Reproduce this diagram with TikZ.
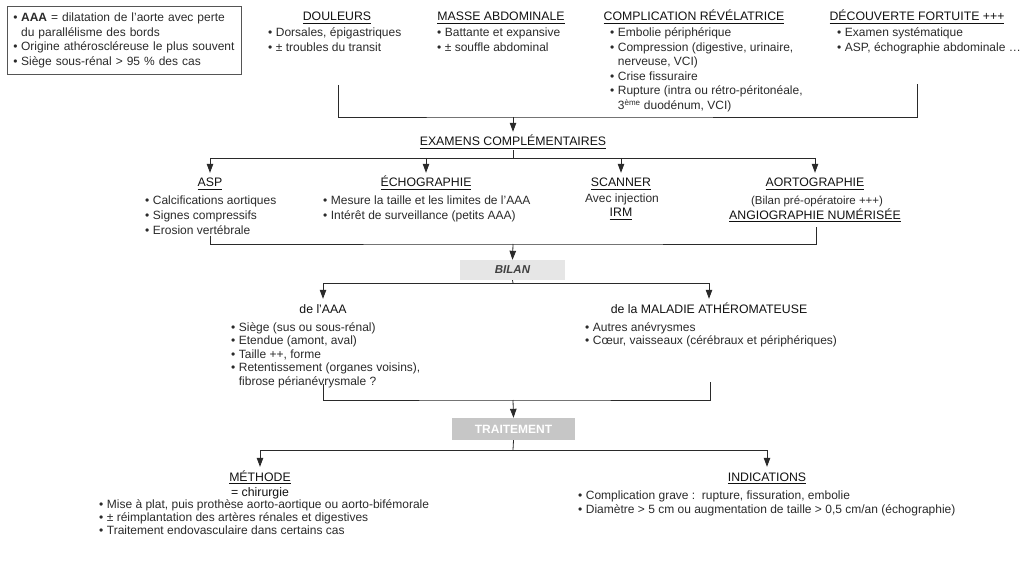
\documentclass[tikz,border=0pt]{standalone}
\usepackage{fontspec}
\setmainfont{Liberation Sans}
\usetikzlibrary{arrows.meta}
\definecolor{lc}{HTML}{2A2A2A}
\definecolor{tx}{HTML}{2A2A2A}
\definecolor{hd}{HTML}{111111}
\definecolor{boxa}{HTML}{E6E6E6}
\definecolor{boxb}{HTML}{C6C6C6}
\definecolor{frame}{HTML}{555555}
\newcommand\ulx[1]{\setbox0\hbox{#1}\rlap{\rule[-3pt]{\wd0}{0.8pt}}\box0}
\newcommand\bfont{\fontsize{12}{14.5}\selectfont}
\newcommand\hfont{\fontsize{12.3}{14.5}\selectfont}
\newcommand\lst[1]{\begin{tabular}[t]{@{}l@{\hspace{3.5pt}}l@{}}#1\end{tabular}}
\newcommand\bu{•}
\tikzset{
  ln/.style={draw=lc, line width=0.8pt},
  arr/.style={ln, -{Triangle[width=6.5pt,length=9pt]}},
  hdr/.style={anchor=base, inner sep=0pt, text height=14pt, text depth=4pt, font=\hfont, text=hd},
  body/.style={anchor=base west, inner sep=0pt, font=\bfont, text=tx},
  bodyc/.style={anchor=base, inner sep=0pt, font=\bfont, text=tx},
  graybox/.style={inner sep=0pt, minimum width=105pt, minimum height=20pt, fill=boxa, text=hd!80, font=\fontsize{11.5}{14}\selectfont\bfseries\itshape},
  darkbox/.style={inner sep=0pt, minimum width=123pt, minimum height=22pt, fill=boxb, text=white, font=\fontsize{12}{14}\selectfont\bfseries},
}
\begin{document}
\begin{tikzpicture}[x=1pt,y=-1pt]
\useasboundingbox (0,0) rectangle (1024,561);

% top-left definition box
\node[draw=frame, line width=0.8pt, anchor=north west, inner xsep=6pt, inner ysep=0pt,
      text width=222pt, minimum height=68pt, font=\bfont, text=tx] (def) at (7,6)
  {\lst{\bu & \textbf{AAA} = dilatation de l'aorte avec perte\\
        & du parallélisme des bords\\
        \bu & Origine athéroscléreuse le plus souvent\\
        \bu & Siège sous-rénal > 95 \% des cas}};

% top headers
\node[hdr] (hdoul) at (337,21) {\ulx{DOULEURS}};
\node[body] (ldoul) at (268,37) {\lst{\bu & Dorsales, épigastriques\\ \bu & ± troubles du transit}};
\node[hdr] (hmasse) at (501,21) {\ulx{MASSE ABDOMINALE}};
\node[body] (lmasse) at (437,37) {\lst{\bu & Battante et expansive\\ \bu & ± souffle abdominal}};
\node[hdr] (hcomp) at (694,21) {\ulx{COMPLICATION RÉVÉLATRICE}};
\node[body] (lcomp) at (610,37) {\lst{\bu & Embolie périphérique\\
   \bu & Compression (digestive, urinaire,\\ & nerveuse, VCI)\\
   \bu & Crise fissuraire\\
   \bu & Rupture (intra ou rétro-péritonéale,\\ & 3\textsuperscript{ème} duodénum, VCI)}};
\node[hdr] (hdec) at (917,21) {\ulx{DÉCOUVERTE FORTUITE +++}};
\node[body] (ldec) at (837,37) {\lst{\bu & Examen systématique\\ \bu & ASP, échographie abdominale \dots}};

\coordinate (c1) at (338,85);
\coordinate (c2) at (917,84);
\coordinate (h1) at (513,117);
\draw[ln] (c1) |- (h1) -| (c2);

% examens
\node[hdr] (exam) at (513,146) {\ulx{EXAMENS COMPLÉMENTAIRES}};
\draw[arr] (h1) -- (exam.north);
\coordinate (h2) at (513,158);
\draw[ln] (exam.south) -- (h2);

\node[hdr] (asp) at (210,187) {\ulx{ASP}};
\node[hdr] (echo) at (426,187) {\ulx{ÉCHOGRAPHIE}};
\node[hdr] (scan) at (621,187) {\ulx{SCANNER}};
\node[hdr] (aorto) at (815,187) {\ulx{AORTOGRAPHIE}};
\draw[ln] (h2 -| asp) -- (h2 -| aorto);
\foreach \n in {asp,echo,scan,aorto} \draw[arr] (h2 -| \n) -- (\n.north);

\node[body] (lasp) at (145,205) {\lst{\bu & Calcifications aortiques\\ \bu & Signes compressifs\\ \bu & Erosion vertébrale}};
\node[body] (lecho) at (323,205) {\lst{\bu & Mesure la taille et les limites de l'AAA\\ \bu & Intérêt de surveillance (petits AAA)}};
\node[bodyc] (avec) at (622,203) {Avec injection};
\node[hdr] (irm) at (621,217) {\ulx{IRM}};
\node[bodyc, font=\fontsize{11.5}{14}\selectfont] (bilpre) at (817,205) {(Bilan pré-opératoire +++)};
\node[hdr] (angio) at (815,219) {\ulx{ANGIOGRAPHIE NUMÉRISÉE}};

\coordinate (e1) at (210,236);
\coordinate (e2) at (816,227);
\coordinate (h3) at (513,244);
\draw[ln] (e1) |- (h3) -| (e2);

% bilan
\node[graybox] (bilan) at (512.5,270) {BILAN};
\draw[arr] (h3) -- (bilan.north);
\coordinate (h4) at (513,283);
\draw[ln] (bilan.south) -- (h4);

\node[hdr] (haaa) at (323,313) {de l'AAA};
\node[hdr] (hmal) at (709,313) {de la MALADIE ATHÉROMATEUSE};
\draw[ln] (h4 -| haaa) -- (h4 -| hmal);
\draw[arr] (h4 -| haaa) -- (haaa.north);
\draw[arr] (h4 -| hmal) -- (hmal.north);

\node[body, font=\fontsize{12}{13.5}\selectfont] (laaa) at (231,331) {\lst{\bu & Siège (sus ou sous-rénal)\\
   \bu & Etendue (amont, aval)\\ \bu & Taille ++, forme\\
   \bu & Retentissement (organes voisins),\\ & fibrose périanévrysmale ?}};
\node[body, font=\fontsize{12}{13.5}\selectfont] (lmal) at (585,331) {\lst{\bu & Autres anévrysmes\\
   \bu & Cœur, vaisseaux (cérébraux et périphériques)}};

\coordinate (f1) at (323,384);
\coordinate (f2) at (710,382);
\coordinate (h5) at (513,400);
\draw[ln] (f1) |- (h5) -| (f2);

% traitement
\node[darkbox] (trait) at (513.5,429) {TRAITEMENT};
\draw[arr] (h5) -- (trait.north);
\coordinate (h6) at (513,450);
\draw[ln] (trait.south) -- (h6);

\node[hdr] (meth) at (260,481) {\ulx{MÉTHODE}};
\node[hdr] (ind) at (767,481) {\ulx{INDICATIONS}};
\draw[ln] (h6 -| meth) -- (h6 -| ind);
\draw[arr] (h6 -| meth) -- (meth.north);
\draw[arr] (h6 -| ind) -- (ind.north);

\node[hdr, text height=0pt] (chir) at (260,496) {= chirurgie};
\node[body, font=\fontsize{12}{13.3}\selectfont] (lmeth) at (99,508) {\lst{\bu & Mise à plat, puis prothèse aorto-aortique ou aorto-bifémorale\\
   \bu & ± réimplantation des artères rénales et digestives\\
   \bu & Traitement endovasculaire dans certains cas}};
\node[body] (lind) at (578,499) {\lst{\bu & Complication grave :\ \ rupture, fissuration, embolie\\
   \bu & Diamètre > 5 cm ou augmentation de taille > 0,5 cm/an (échographie)}};
\end{tikzpicture}
\end{document}
